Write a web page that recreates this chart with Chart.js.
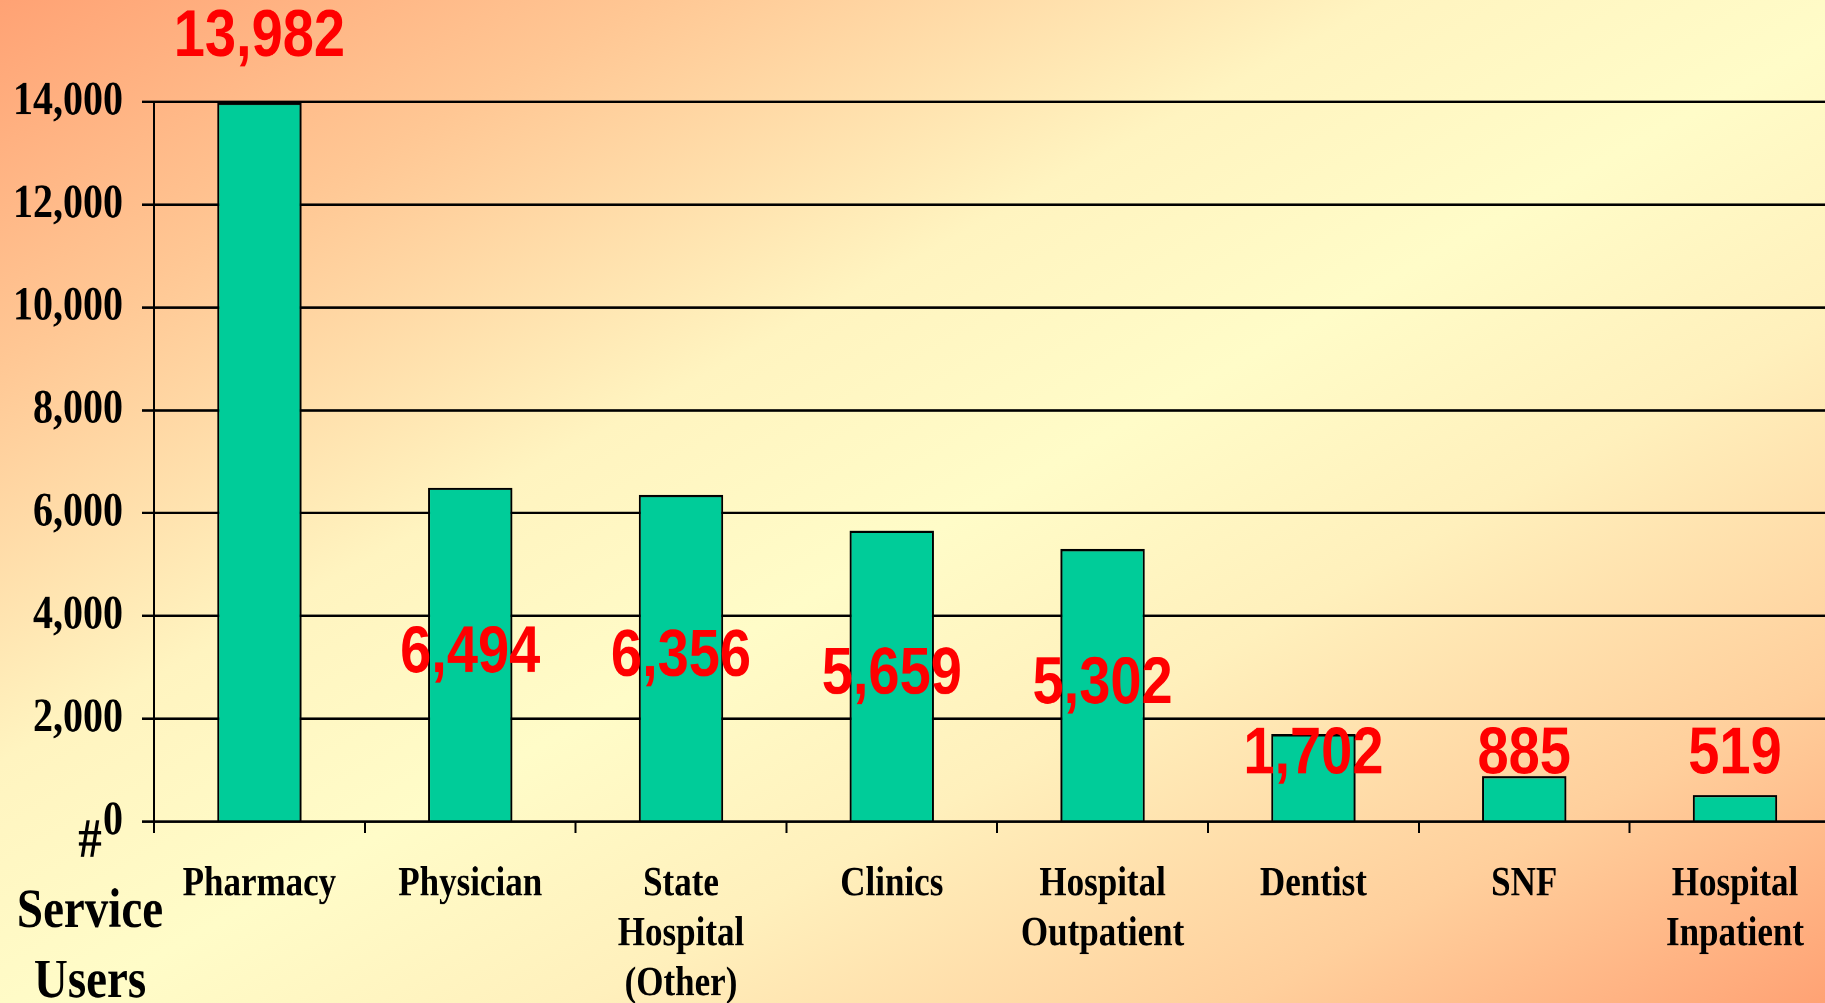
<!DOCTYPE html>
<html>
<head>
<meta charset="utf-8">
<title>Service Users</title>
<script src="https://cdn.jsdelivr.net/npm/chart.js@4.4.0/dist/chart.umd.min.js"></script>
<style>
  html, body { margin: 0; padding: 0; width: 1825px; height: 1003px; overflow: hidden; }
  body {
    background: linear-gradient(to bottom right, #ffa274 0%, #ffc794 18%, #fff4c0 38%, #fffcc8 52%, #fff0bc 66%, #ffcf9c 84%, #ffa274 100%);
  }
  /* the original slide is stretched vertically, so draw flat and stretch */
  #wrap { position: absolute; left: 0; top: 0; width: 1845px; height: 843px; transform: scaleY(1.1898); transform-origin: 0 0; }
</style>
</head>
<body>
<div id="wrap"><canvas id="usersChart"></canvas></div>
<script>
const categories = [
  ['Pharmacy'],
  ['Physician'],
  ['State', 'Hospital', '(Other)'],
  ['Clinics'],
  ['Hospital', 'Outpatient'],
  ['Dentist'],
  ['SNF'],
  ['Hospital', 'Inpatient']
];
const serviceUsers = [13982, 6494, 6356, 5659, 5302, 1702, 885, 519];
const yTicks = [0, 2000, 4000, 6000, 8000, 10000, 12000, 14000];
const axisTitle = ['#', 'Service', 'Users'];

const serif = '"Liberation Serif", "Times New Roman", serif';

// red value labels, centred in the bar but kept clear of the axis
const valueLabels = {
  id: 'valueLabels',
  afterDatasetsDraw(chart) {
    const ctx = chart.ctx;
    const top = chart.chartArea.top;
    ctx.save();
    ctx.font = 'bold 56px "Liberation Sans", Arial, sans-serif';
    ctx.fillStyle = '#ff0000';
    ctx.textAlign = 'center';
    ctx.textBaseline = 'middle';
    chart.getDatasetMeta(0).data.forEach((bar, i) => {
      let cy = (bar.y + bar.base) / 2;
      if (bar.y <= top + 1) cy = top - 54;
      else cy = Math.min(cy, bar.base - 55);
      ctx.fillText(serviceUsers[i].toLocaleString('en-US'), bar.x, cy);
    });
    ctx.restore();
  }
};

// "# Service Users" in the bottom left corner
const cornerTitle = {
  id: 'cornerTitle',
  afterDraw(chart) {
    const ctx = chart.ctx;
    const base = chart.chartArea.bottom;
    ctx.save();
    ctx.font = 'bold 47px ' + serif;
    ctx.fillStyle = '#000';
    ctx.textAlign = 'center';
    ctx.textBaseline = 'alphabetic';
    axisTitle.forEach((line, i) => {
      ctx.fillText(line, 90, base + 29.5 + i * 59);
    });
    ctx.restore();
  }
};

new Chart(document.getElementById('usersChart'), {
  type: 'bar',
  data: {
    labels: categories,
    datasets: [{
      data: serviceUsers,
      backgroundColor: '#00cc99',
      borderColor: '#000',
      borderWidth: 2,
      categoryPercentage: 1,
      barPercentage: 0.4
    }]
  },
  options: {
    responsive: true,
    maintainAspectRatio: false,
    devicePixelRatio: 2,
    animation: false,
    layout: { padding: { top: 85.5, right: 4.6, bottom: 0, left: 0 } },
    plugins: {
      legend: { display: false },
      tooltip: { enabled: false }
    },
    scales: {
      x: {
        offset: true,
        grid: { display: true, drawOnChartArea: false, offset: true, color: '#000', lineWidth: 2, tickLength: 9.5 },
        border: { display: true, color: '#000', width: 2 },
        ticks: {
          color: '#000',
          padding: 22.5,
          maxRotation: 0,
          autoSkip: false,
          font: { family: serif, weight: 'bold', size: 35, lineHeight: 1.2 }
        },
        afterFit: s => { s.height = 152.5; }
      },
      y: {
        min: yTicks[0],
        max: yTicks[yTicks.length - 1],
        afterBuildTicks: s => { s.ticks = yTicks.map(v => ({ value: v })); },
        grid: { color: '#000', lineWidth: 2, tickLength: 12 },
        border: { display: true, color: '#000', width: 2 },
        ticks: {
          color: '#000',
          padding: 19,
          font: { family: serif, weight: 'bold', size: 40 },
          callback: v => v.toLocaleString('en-US')
        },
        afterFit: s => { s.width = 154; }
      }
    }
  },
  plugins: [valueLabels, cornerTitle]
});
</script>
</body>
</html>
